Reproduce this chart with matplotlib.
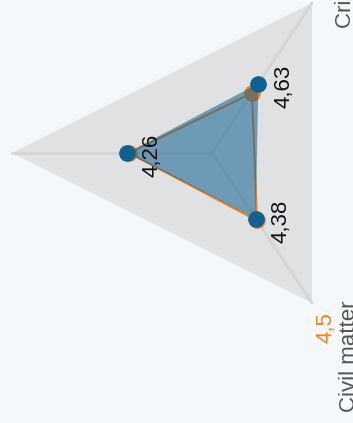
import numpy as np
import matplotlib
matplotlib.use("Agg")
import matplotlib.pyplot as plt

# ---- data ----
axes_labels = ["", "Criminal matter", "Civil matter"]
series_blue = [4.26, 4.63, 4.38]
series_orange = [4.15, 4.0, 4.5]
value_labels = ["4,26", "4,63", "4,38"]
orange_label = "4,5"
scale_max = 10

# ---- style / layout ----
BG = "#f5f8fa"
GRID_FILL = "#e0e1e3"
SPOKE = "#d3d4d6"
BLUE = "#0f6290"
ORANGE = "#f28222"
TEXT = "#111111"
LABEL = "#555555"

W, H = 353, 423
cx, cy = 212, 153            # centre in pixels
rx, ry = 20.0, 17.32         # pixels per unit (x, y)

plt.rcParams['font.family'] = ['Liberation Sans', 'DejaVu Sans']
fig = plt.figure(figsize=(W / 100, H / 100), dpi=100)
fig.patch.set_facecolor(BG)
ax = fig.add_axes([0, 0, 1, 1])
ax.set_facecolor(BG)
ax.axis("off")
ax.set_xlim(-cx / rx, (W - cx) / rx)
ax.set_ylim(-(H - cy) / ry, cy / ry)

angles = np.deg2rad([180, 60, -60])

def pts(vals):
    v = np.asarray(vals, dtype=float)
    return v * np.cos(angles), v * np.sin(angles)

# outer grid polygon
gx, gy = pts([scale_max] * 3)
ax.fill(gx, gy, color=GRID_FILL, zorder=1, lw=0)
for x, y in zip(gx, gy):
    ax.plot([0, x], [0, y], color=SPOKE, lw=2, zorder=2, solid_capstyle="round")

# orange series
ox, oy = pts(series_orange)
ax.plot(np.append(ox, ox[0]), np.append(oy, oy[0]), color=ORANGE, lw=1.5, zorder=3)
ax.plot(ox, oy, "o", color=ORANGE, ms=12, mew=0, zorder=3)

# blue series
bx, by = pts(series_blue)
ax.fill(bx, by, color=BLUE, alpha=0.55, lw=0, zorder=4)
ax.plot(bx, by, "o", color=BLUE, ms=12, mew=0, zorder=5)

for x, y, t in zip(bx, by, value_labels):
    ax.annotate(t, (x, y), xytext=(31, -2.5), textcoords="offset pixels",
                rotation=90, rotation_mode="anchor", ha="center", va="baseline",
                fontsize=16, color=TEXT, zorder=6)

# axis labels
ax.annotate(axes_labels[1], (gx[1], gy[1]), xytext=(39, -25), textcoords="offset pixels",
            rotation=90, rotation_mode="anchor", ha="left", va="baseline",
            fontsize=16, color=LABEL, annotation_clip=False)
ax.annotate(axes_labels[2], (gx[2], gy[2]), xytext=(43, -109), textcoords="offset pixels",
            rotation=90, rotation_mode="anchor", ha="left", va="baseline",
            fontsize=16, color=LABEL, annotation_clip=False)
ax.annotate(orange_label, (gx[2], gy[2]), xytext=(19, -40), textcoords="offset pixels",
            rotation=90, rotation_mode="anchor", ha="left", va="baseline",
            fontsize=16, color=ORANGE, annotation_clip=False)

fig.savefig("out.png", dpi=100, facecolor=BG)
